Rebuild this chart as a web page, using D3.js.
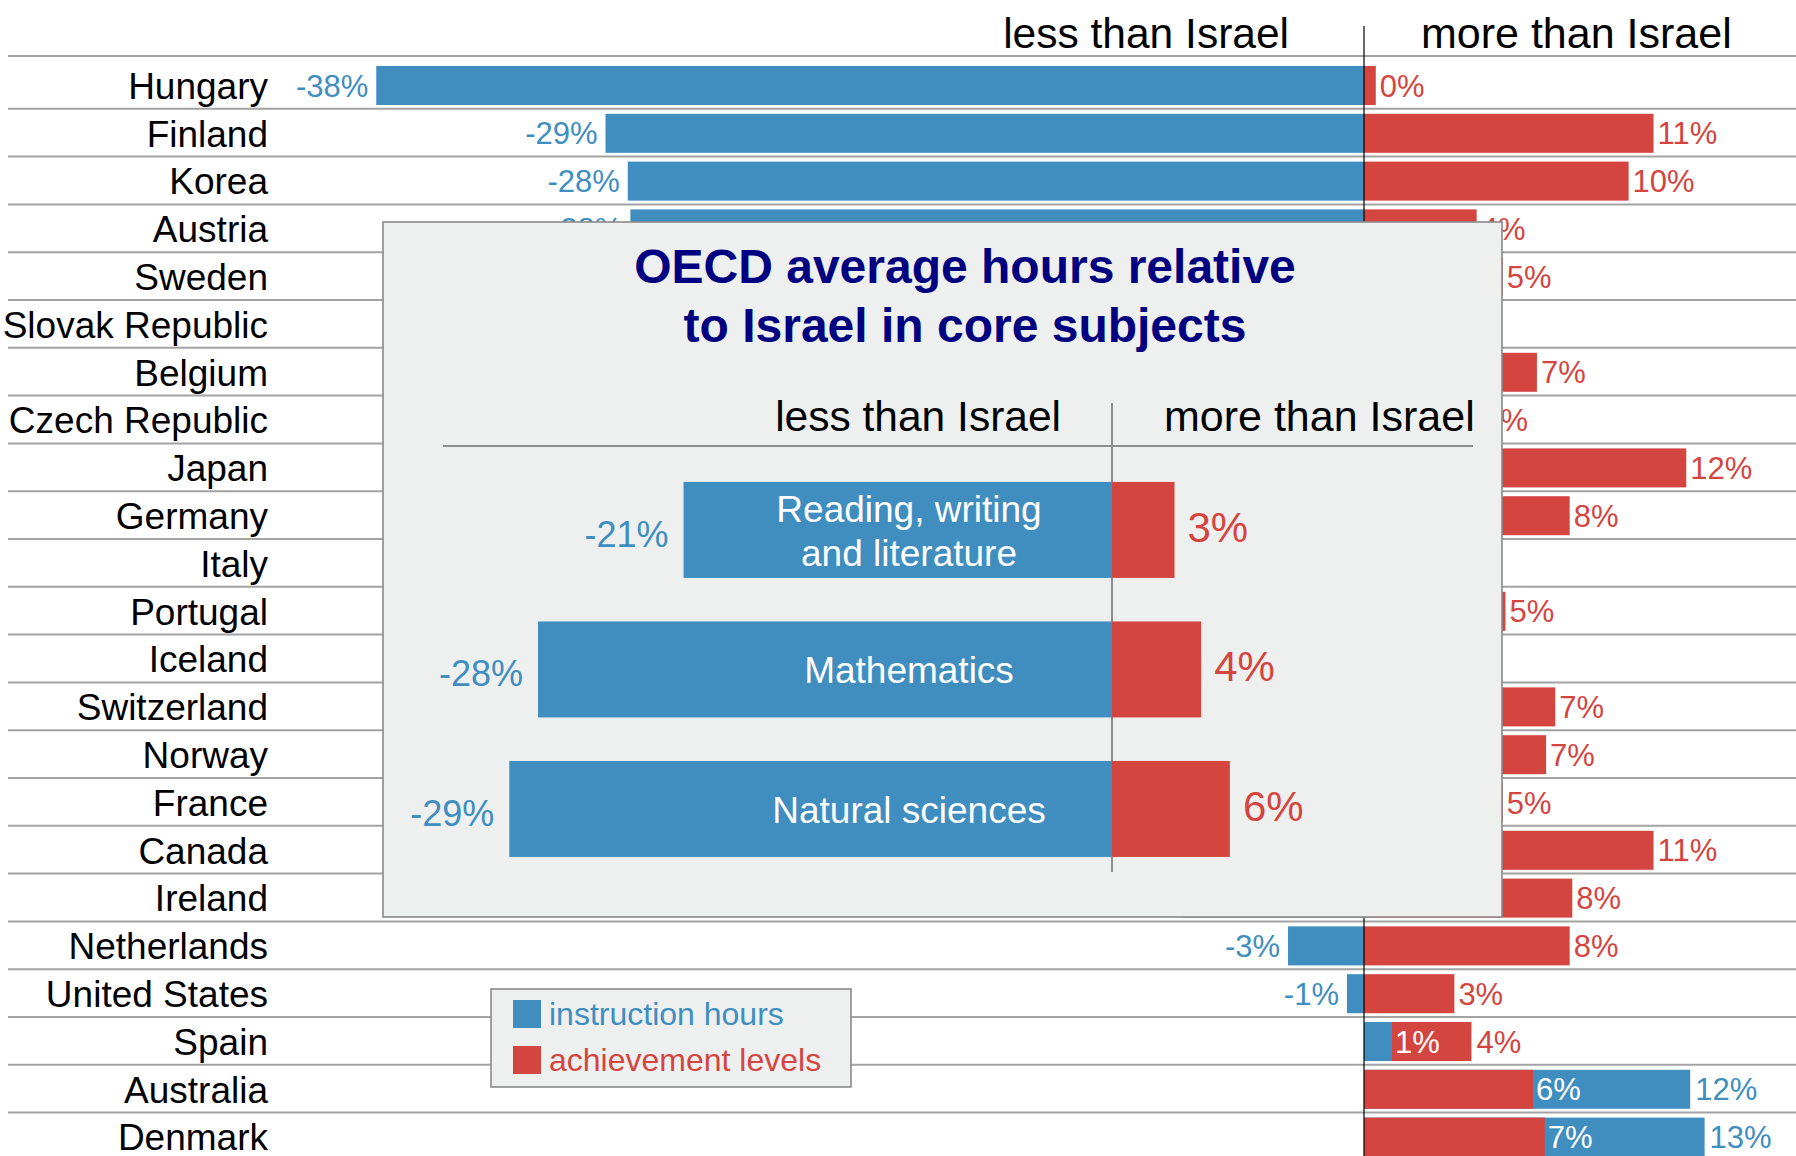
<!DOCTYPE html>
<html>
<head>
<meta charset="utf-8">
<script src="https://cdn.jsdelivr.net/npm/d3@7"></script>
<style>
  html, body { margin: 0; padding: 0; background: #ffffff; }
  svg { display: block; font-family: "Liberation Sans", Arial, sans-serif; }
</style>
</head>
<body>
<script>
// ---------------- data ----------------
const countries = ["Hungary", "Finland", "Korea", "Austria", "Sweden", "Slovak Republic", "Belgium",
  "Czech Republic", "Japan", "Germany", "Italy", "Portugal", "Iceland", "Switzerland", "Norway",
  "France", "Canada", "Ireland", "Netherlands", "United States", "Spain", "Australia", "Denmark"];
// instruction hours relative to Israel (%)
const instructionHours = [-37.7, -28.95, -28.1, -28.0, -27.0, -26.0, -25.0, -24.0, -23.0, -22.0,
  -20.0, -19.0, -18.0, -16.0, -14.0, -12.0, -10.0, -7.0, -2.9, -0.65, 1.07, 12.45, 13.0];
// achievement levels relative to Israel (%)
const achievementLevels = [0.45, 11.05, 10.1, 4.3, 5.3, 2.0, 6.6, 4.4, 12.3, 7.85, 1.5, 5.4, 1.0,
  7.3, 6.95, 5.3, 11.05, 7.95, 7.85, 3.45, 4.1, 6.45, 6.9];

const headerLabels = ["less than Israel", "more than Israel"];
const legendLabels = ["instruction hours", "achievement levels"];

const insetTitle = ["OECD average hours relative", "to Israel in core subjects"];
const subjects = ["Reading, writing and literature", "Mathematics", "Natural sciences"];
const subjectLines = [["Reading, writing", "and literature"], ["Mathematics"], ["Natural sciences"]];
const subjectHours = [-20.9, -28.0, -29.4];
const subjectAchievement = [3.05, 4.35, 5.75];

// ---------------- styles ----------------
const BLUE = "#408ec0", RED = "#d5453f", GRID = "#a3a3a3", BOXFILL = "#eef0ef", BOXSTROKE = "#8a8a8a";
const fmt = v => Math.round(v) + "%";

const W = 1796, H = 1156;
const svg = d3.select("body").append("svg").attr("width", W).attr("height", H);

// inset box geometry
const INSET = { x0: 383, y0: 222, x1: 1502, y1: 917 };

// ---------------- main chart ----------------
const x = d3.scaleLinear().domain([0, 10]).range([1364, 1626]);
const step = 47.8;
const y = d3.scaleBand().domain(countries)
  .range([61.6, 61.6 + countries.length * step])
  .paddingInner(0.184).paddingOuter(0.092);
const bw = y.bandwidth();

const rows = countries.map((c, i) => ({ c, h: instructionHours[i], a: achievementLevels[i] }));

// grid lines
svg.append("line").attr("x1", 8).attr("x2", W).attr("y1", 56).attr("y2", 56)
  .attr("stroke", GRID).attr("stroke-width", 2);
svg.append("g").selectAll("line").data(countries.slice(1)).join("line")
  .attr("x1", 8).attr("x2", W)
  .attr("y1", d => y(d) - 5).attr("y2", d => y(d) - 5)
  .attr("stroke", GRID).attr("stroke-width", 2);

// country labels
svg.append("g").selectAll("text").data(countries).join("text")
  .attr("x", 268).attr("y", d => y(d) + bw / 2).attr("dy", "0.36em")
  .attr("text-anchor", "end").attr("font-size", 37).attr("fill", "#000")
  .text(d => d);

const bars = svg.append("g");
const labels = svg.append("g").attr("font-size", 31);

rows.forEach(r => {
  const yy = y(r.c);
  const cy = yy + bw / 2;
  if (r.h < 0) {
    bars.append("rect").attr("x", x(r.h)).attr("y", yy).attr("width", x(0) - x(r.h)).attr("height", bw).attr("fill", BLUE);
    bars.append("rect").attr("x", x(0)).attr("y", yy).attr("width", x(r.a) - x(0)).attr("height", bw).attr("fill", RED);
    labels.append("text").attr("x", x(r.h) - 8).attr("y", cy).attr("dy", "0.36em")
      .attr("text-anchor", "end").attr("fill", BLUE).text(fmt(r.h));
    labels.append("text").attr("x", x(r.a) + 4).attr("y", cy).attr("dy", "0.36em")
      .attr("fill", RED).text(fmt(r.a));
  } else {
    const big = r.h >= r.a ? { v: r.h, col: BLUE } : { v: r.a, col: RED };
    const small = r.h >= r.a ? { v: r.a, col: RED } : { v: r.h, col: BLUE };
    bars.append("rect").attr("x", x(0)).attr("y", yy).attr("width", x(big.v) - x(0)).attr("height", bw).attr("fill", big.col);
    bars.append("rect").attr("x", x(0)).attr("y", yy).attr("width", x(small.v) - x(0)).attr("height", bw).attr("fill", small.col);
    labels.append("text").attr("x", x(small.v) + 3).attr("y", cy).attr("dy", "0.36em")
      .attr("fill", "#fff").text(fmt(small.v));
    labels.append("text").attr("x", x(big.v) + 5).attr("y", cy).attr("dy", "0.36em")
      .attr("fill", big.col).text(fmt(big.v));
  }
});

// value labels completely hidden behind the inset box are not drawn
labels.selectAll("text").each(function () {
  const b = this.getBBox();
  if (b.x >= INSET.x0 && b.x + b.width <= INSET.x1 && b.y >= INSET.y0 && b.y + b.height <= INSET.y1) {
    d3.select(this).remove();
  }
});

// zero line
svg.append("line").attr("x1", x(0)).attr("x2", x(0)).attr("y1", 26).attr("y2", H)
  .attr("stroke", "#000").attr("stroke-width", 1.2);

// header
svg.append("text").attr("x", 1289).attr("y", 48).attr("text-anchor", "end")
  .attr("font-size", 42.5).attr("fill", "#000").text(headerLabels[0]);
svg.append("text").attr("x", 1421).attr("y", 48).attr("text-anchor", "start")
  .attr("font-size", 43).attr("fill", "#000").text(headerLabels[1]);

// ---------------- inset ----------------
const inset = svg.append("g");
inset.append("rect").attr("x", INSET.x0).attr("y", INSET.y0)
  .attr("width", INSET.x1 - INSET.x0).attr("height", INSET.y1 - INSET.y0)
  .attr("fill", BOXFILL).attr("stroke", BOXSTROKE).attr("stroke-width", 1.6);

inset.append("g").selectAll("text").data(insetTitle).join("text")
  .attr("x", 965).attr("y", (d, i) => 283 + i * 58.5)
  .attr("text-anchor", "middle").attr("font-size", 48).attr("font-weight", "bold")
  .attr("fill", "#000080").text(d => d);

const xi = d3.scaleLinear().domain([0, 10]).range([1112, 1317]);
const yi = d3.scaleBand().domain(subjects).range([460.2, 460.2 + 3 * 139.5])
  .paddingInner(0.312).paddingOuter(0.156);
const bwi = yi.bandwidth();

inset.append("text").attr("x", 1061).attr("y", 431).attr("text-anchor", "end")
  .attr("font-size", 42.5).attr("fill", "#000").text(headerLabels[0]);
inset.append("text").attr("x", 1164).attr("y", 431).attr("text-anchor", "start")
  .attr("font-size", 43).attr("fill", "#000").text(headerLabels[1]);
inset.append("line").attr("x1", 443).attr("x2", 1473).attr("y1", 446).attr("y2", 446)
  .attr("stroke", "#8e8e8e").attr("stroke-width", 2);
inset.append("line").attr("x1", xi(0)).attr("x2", xi(0)).attr("y1", 403).attr("y2", 872)
  .attr("stroke", "#8e8e8e").attr("stroke-width", 2);

subjects.forEach((s, i) => {
  const yy = yi(s), cy = yy + bwi / 2;
  const h = subjectHours[i], a = subjectAchievement[i];
  inset.append("rect").attr("x", xi(h)).attr("y", yy).attr("width", xi(0) - xi(h)).attr("height", bwi).attr("fill", BLUE);
  inset.append("rect").attr("x", xi(0)).attr("y", yy).attr("width", xi(a) - xi(0)).attr("height", bwi).attr("fill", RED);
  inset.append("text").attr("x", xi(h) - 15).attr("y", cy + 16.7).attr("text-anchor", "end")
    .attr("font-size", 36).attr("fill", BLUE).text(fmt(h));
  inset.append("text").attr("x", xi(a) + 13).attr("y", cy + 12).attr("text-anchor", "start")
    .attr("font-size", 42).attr("fill", RED).text(fmt(a));
  const lines = subjectLines[i];
  const lh = 43.7;
  lines.forEach((ln, k) => {
    inset.append("text").attr("x", 909)
      .attr("y", cy + 14 + (k - (lines.length - 1) / 2) * lh)
      .attr("text-anchor", "middle").attr("font-size", 37).attr("fill", "#fff").text(ln);
  });
});

// ---------------- legend ----------------
const legend = svg.append("g");
legend.append("rect").attr("x", 491).attr("y", 989).attr("width", 360).attr("height", 98)
  .attr("fill", BOXFILL).attr("stroke", BOXSTROKE).attr("stroke-width", 1.6);
const legendColors = [BLUE, RED];
legend.selectAll("g.item").data(legendLabels).join("g").attr("class", "item")
  .each(function (d, i) {
    const g = d3.select(this);
    g.append("rect").attr("x", 513).attr("y", 1000 + i * 46).attr("width", 28).attr("height", 28)
      .attr("fill", legendColors[i]);
    g.append("text").attr("x", 549).attr("y", 1025 + i * 45.5).attr("font-size", 32)
      .attr("fill", legendColors[i]).text(d);
  });
</script>
</body>
</html>
